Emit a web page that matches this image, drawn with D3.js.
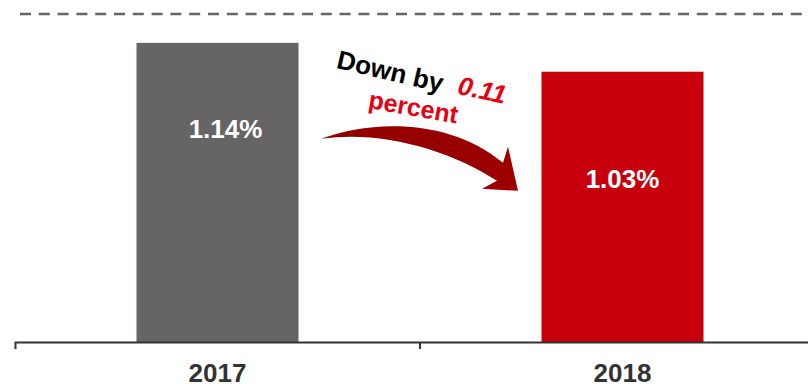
<!DOCTYPE html>
<html>
<head>
<meta charset="utf-8">
<script src="https://cdn.jsdelivr.net/npm/d3@7"></script>
<style>
  html, body { margin: 0; padding: 0; background: #fff; }
  svg { display: block; font-family: "Liberation Sans", Arial, sans-serif; }
</style>
</head>
<body>
<svg id="chart" width="808" height="384"></svg>
<script>
// Year-on-year rate
const categories = ["2017", "2018"];
const values = [1.14, 1.03];
const valueLabels = ["1.14%", "1.03%"];
const barColors = ["#666464", "#c8000b"];
const yMax = 1.25;
const changeText = ["Down by", "0.11", "percent"];

const svg = d3.select("#chart");
const W = 808, H = 384;

const x = d3.scaleBand()
  .domain(categories)
  .range([15, 825])
  .paddingInner(0.6)
  .paddingOuter(0.3);

const y = d3.scaleLinear()
  .domain([0, yMax])
  .range([342, 14]);

// dashed reference line at the top of the value range
svg.append("line")
  .attr("x1", 20).attr("x2", W)
  .attr("y1", y(yMax)).attr("y2", y(yMax))
  .attr("stroke", "#666")
  .attr("stroke-width", 2.5)
  .attr("stroke-dasharray", "11,7.8");

// bars
svg.selectAll("rect.bar")
  .data(values)
  .join("rect")
  .attr("class", "bar")
  .attr("x", (d, i) => x(categories[i]))
  .attr("y", d => y(d))
  .attr("width", x.bandwidth())
  .attr("height", d => y(0) - y(d))
  .attr("fill", (d, i) => barColors[i]);

// value labels inside the bars
const labelDx = [8, 0];
const labelDy = [95, 116];
svg.selectAll("text.val")
  .data(values)
  .join("text")
  .attr("class", "val")
  .attr("x", (d, i) => x(categories[i]) + x.bandwidth() / 2 + labelDx[i])
  .attr("y", (d, i) => y(d) + labelDy[i])
  .attr("text-anchor", "middle")
  .attr("fill", "#fff")
  .attr("font-weight", "bold")
  .attr("font-size", 26)
  .text((d, i) => valueLabels[i]);

// category axis with ticks on the band boundaries
const axis = svg.append("g")
  .attr("transform", `translate(0,${y(0)})`)
  .call(d3.axisBottom(x).tickSize(0).tickSizeOuter(7));
axis.select(".domain").attr("stroke", "#333").attr("stroke-width", 2);
axis.selectAll(".tick text")
  .attr("dy", null)
  .attr("y", 40)
  .attr("fill", "#333")
  .attr("font-family", "Liberation Sans, Arial, sans-serif")
  .attr("font-weight", "bold")
  .attr("font-size", 26);
const boundaries = d3.range(1, categories.length).map(i => x.range()[0] + i * x.step());
axis.selectAll("line.boundary")
  .data(boundaries)
  .join("line")
  .attr("class", "boundary")
  .attr("x1", d => d).attr("x2", d => d)
  .attr("y1", 0).attr("y2", 7)
  .attr("stroke", "#333")
  .attr("stroke-width", 2);

// change annotation, anchored at the right edge / top of the first bar
const ox = x(categories[0]) + x.bandwidth();
const oy = y(values[0]);
const note = svg.append("g").attr("transform", `translate(${ox},${oy})`);

const grad = svg.append("defs").append("linearGradient")
  .attr("id", "arrowFill")
  .attr("x1", "0").attr("x2", "1").attr("y1", "0").attr("y2", "0");
grad.append("stop").attr("offset", "0").attr("stop-color", "#8f0000");
grad.append("stop").attr("offset", "1").attr("stop-color", "#9e0000");

const arrow = d3.path();
arrow.moveTo(22.5, 96);
arrow.bezierCurveTo(71.5, 77, 151.5, 75, 204.5, 120);
arrow.lineTo(209.5, 104);
arrow.lineTo(219.5, 148);
arrow.lineTo(183.5, 146);
arrow.lineTo(198.5, 138);
arrow.bezierCurveTo(151.5, 107, 81.5, 87, 22.5, 96);
arrow.closePath();
note.append("path")
  .attr("d", arrow.toString())
  .attr("fill", "url(#arrowFill)");

note.append("text")
  .attr("transform", "translate(37,25) rotate(13)")
  .attr("font-weight", "bold")
  .attr("font-size", 26)
  .attr("fill", "#000")
  .text(changeText[0]);

note.append("text")
  .attr("transform", "translate(158,51) rotate(12)")
  .attr("font-weight", "bold")
  .attr("font-style", "italic")
  .attr("font-size", 26)
  .attr("fill", "#e60012")
  .text(changeText[1]);

note.append("text")
  .attr("transform", "translate(69,65) rotate(10)")
  .attr("font-weight", "bold")
  .attr("font-size", 25)
  .attr("fill", "#e60012")
  .text(changeText[2]);
</script>
</body>
</html>
